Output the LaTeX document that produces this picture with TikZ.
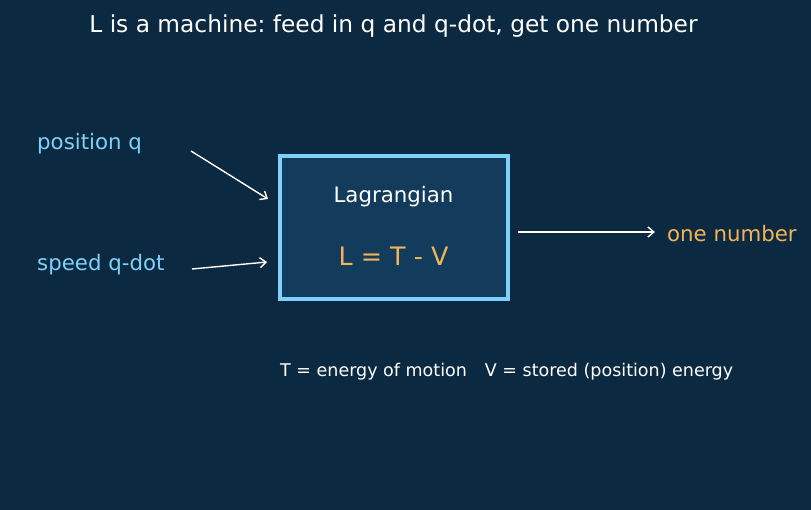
\documentclass[tikz,border=0pt]{standalone}
\usepackage{fontspec}
\setmainfont{DejaVu Sans}
\usetikzlibrary{arrows.meta}
\frenchspacing
\definecolor{bg}{HTML}{0B2A42}
\definecolor{boxfill}{HTML}{133B5C}
\definecolor{boxline}{HTML}{7FD0FA}
\definecolor{inlbl}{HTML}{7FD0FA}
\definecolor{outlbl}{HTML}{F2B457}
\tikzset{
  lbl/.style={inner sep=0pt, font=\fontsize{21.3}{25}\selectfont},
  arr/.style={draw=white, line width=1.4pt, -{Straight Barb[length=6pt,width=10pt,line width=1.4pt]}},
}
\begin{document}
\begin{tikzpicture}[x=1pt,y=-1pt]
\fill[bg] (0,0) rectangle (811,510);
\useasboundingbox (0,0) rectangle (811,510);
\node[inner sep=0pt, text=white, font=\fontsize{23.3}{27}\selectfont] (title) at (393.5,26) {L is a machine: feed in q and q-dot, get one number};
\node[draw=boxline, fill=boxfill, line width=3.2pt, minimum width=228pt, minimum height=143pt, inner sep=0pt] (box) at (394,227.5) {};
\node[lbl, text=white] (lag) at (393.5,197) {Lagrangian};
\node[inner sep=0pt, text=outlbl, font=\fontsize{25.4}{29}\selectfont] (eq) at (393.5,256) {L = T - V};
\node[lbl, text=inlbl, anchor=west] (posq) at (37,144) {position q};
\node[lbl, text=inlbl, anchor=west] (speed) at (37,265) {speed q-dot};
\node[lbl, text=outlbl, anchor=west] (out) at (667,234) {one number};
\node[inner sep=0pt, text=white, anchor=west, font=\fontsize{17.5}{21}\selectfont] (note) at (280,372) {T = energy of motion\hspace{18pt}V = stored (position) energy};
\coordinate (a1s) at (191,151); \coordinate (a1e) at (268,199);
\coordinate (a2s) at (192,269); \coordinate (a2e) at (267,262);
\coordinate (a3s) at (518,232); \coordinate (a3e) at (655,232);
\draw[arr] (a1s) -- (a1e);
\draw[arr] (a2s) -- (a2e);
\draw[arr] (a3s) -- (a3e);
\end{tikzpicture}
\end{document}
